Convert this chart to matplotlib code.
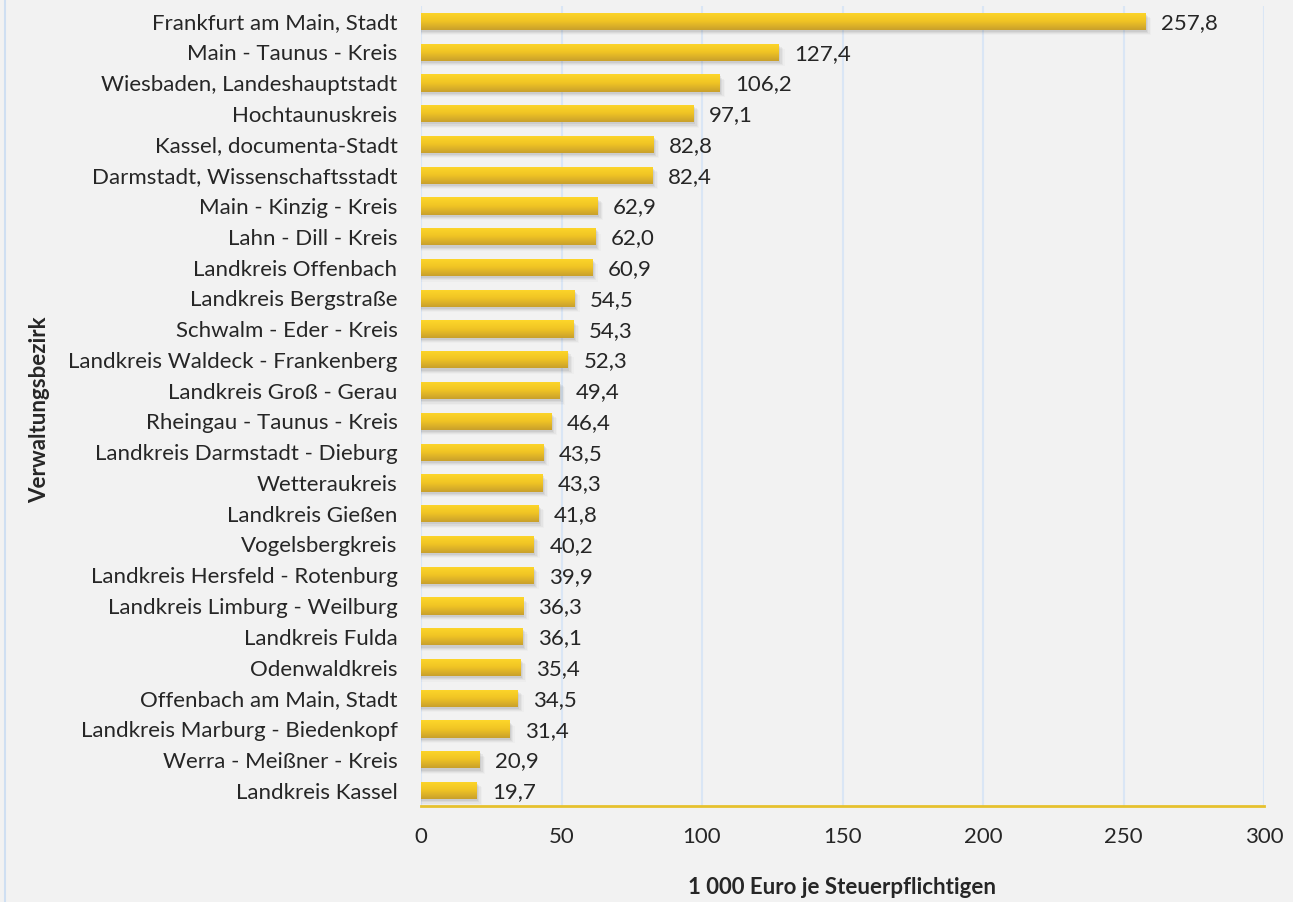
import matplotlib
matplotlib.use("Agg")
import matplotlib.pyplot as plt
import numpy as np
from matplotlib.patches import Rectangle
from matplotlib.colors import LinearSegmentedColormap
from matplotlib.lines import Line2D

categories = [
    "Frankfurt am Main, Stadt", "Main - Taunus - Kreis", "Wiesbaden, Landeshauptstadt",
    "Hochtaunuskreis", "Kassel, documenta-Stadt", "Darmstadt, Wissenschaftsstadt",
    "Main - Kinzig - Kreis", "Lahn - Dill - Kreis", "Landkreis Offenbach",
    "Landkreis Bergstraße", "Schwalm - Eder - Kreis", "Landkreis Waldeck - Frankenberg",
    "Landkreis Groß - Gerau", "Rheingau - Taunus - Kreis", "Landkreis Darmstadt - Dieburg",
    "Wetteraukreis", "Landkreis Gießen", "Vogelsbergkreis", "Landkreis Hersfeld - Rotenburg",
    "Landkreis Limburg - Weilburg", "Landkreis Fulda", "Odenwaldkreis",
    "Offenbach am Main, Stadt", "Landkreis Marburg - Biedenkopf", "Werra - Meißner - Kreis",
    "Landkreis Kassel",
]
values = [257.8, 127.4, 106.2, 97.1, 82.8, 82.4, 62.9, 62.0, 60.9, 54.5, 54.3, 52.3,
          49.4, 46.4, 43.5, 43.3, 41.8, 40.2, 39.9, 36.3, 36.1, 35.4, 34.5, 31.4, 20.9, 19.7]
xticks = [0, 50, 100, 150, 200, 250, 300]

FONT = "Lato"
plt.rcParams['font.family'] = [FONT, 'DejaVu Sans']
FS = 16

fig = plt.figure(figsize=(12.93, 9.02), dpi=100)
fig.patch.set_facecolor("#f2f2f2")
ax = fig.add_axes([421/1293, 1-806/902, (1264-421)/1293, 800/902])
ax.set_facecolor("#f2f2f2")

n = len(categories)
ypos = np.arange(n)
h = 0.56
ax.set_xlim(0, 300)
ax.set_ylim(n - 0.5, -0.5)

for x in xticks[1:]:
    ax.axvline(x, color="#dae6f5", lw=1.5, zorder=0)

cmap = LinearSegmentedColormap.from_list("g", ["#fdd62a", "#f0c424", "#c9a02c"])
grad = np.linspace(0, 1, 64).reshape(-1, 1)
for y, v in zip(ypos, values):
    # shadow
    for k, a in enumerate([0.10, 0.07, 0.05, 0.03]):
        sh = Rectangle((0, y - h/2 + 0.07 + 0.035*k), v + 0.5 + 0.5*k, h, facecolor="#555555",
                       edgecolor="none", alpha=a, zorder=1)
        ax.add_patch(sh)
    r = Rectangle((0, y - h/2), v, h, facecolor="none", edgecolor="none", zorder=2)
    ax.add_patch(r)
    im = ax.imshow(grad, cmap=cmap, aspect="auto", extent=(0, v, y + h/2, y - h/2),
                   zorder=2, interpolation="bilinear")
    im.set_clip_path(r)
    ax.text(v + 5.5, y + 0.05, f"{v:.1f}".replace(".", ","), va="center", ha="left",
            fontsize=FS, color="#262626")

ax.set_xlim(0, 300)
ax.set_ylim(n - 0.5, -0.5)
ax.set_yticks(ypos)
ax.set_yticklabels(categories, fontsize=FS, color="#262626")
ax.set_xticks(xticks)
ax.set_xticklabels([str(t) for t in xticks], fontsize=FS, color="#262626")
ax.tick_params(axis="y", length=0, pad=17)
ax.tick_params(axis="x", length=0, pad=15)
for s in ["top", "right", "left"]:
    ax.spines[s].set_visible(False)
ax.spines["bottom"].set_color("#e6c12e")
ax.spines["bottom"].set_linewidth(2)
ax.axvline(0, color="#dae6f5", lw=1.5, zorder=0)

fig.text(842/1293, 1-887/902, "1 000 Euro je Steuerpflichtigen", ha="center", va="center",
         fontsize=FS, fontweight="bold", color="#262626")
fig.text(40/1293, 1-410/902, "Verwaltungsbezirk", ha="center", va="center", rotation=90,
         fontsize=FS, fontweight="bold", color="#262626")

fig.add_artist(Line2D([5/1293, 5/1293], [0, 1], transform=fig.transFigure, color="#cfdff2", lw=1.5))

fig.savefig("out.png", dpi=100, facecolor=fig.get_facecolor())
